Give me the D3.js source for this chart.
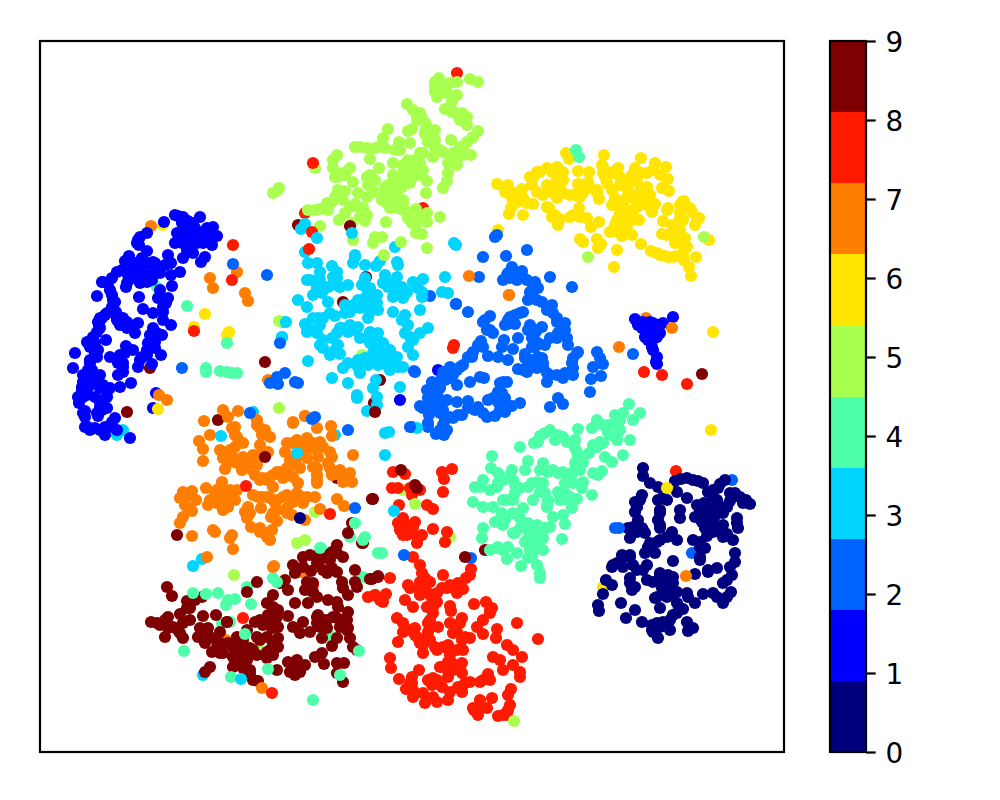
<!DOCTYPE html>
<html><head><meta charset="utf-8">
<script src="https://cdn.jsdelivr.net/npm/d3@7"></script>
<style>html,body{margin:0;background:#fff}svg{display:block}</style></head>
<body><div id="chart"></div>
<script>
const tickLabels=[0,1,2,3,4,5,6,7,8,9];
const palette=["#00007f","#0000ff","#0063ff","#00d4ff","#4effa9","#a9ff4e","#ffe500","#ff7e00","#ff1a00","#7f0000"];
const class0=[[603,427],[603,435],[610,442],[618,446],[635,440],[647,437],[653,439],[663,442],[637,451],[685,439],[678,447],[668,451],[690,452],[700,456],[710,463],[703,462],[602,454],[595,461],[618,459],[627,459],[647,457],[657,464],[677,459],[687,466],[670,467],[595,471],[620,469],[640,469],[640,477],[655,476],[668,476],[683,472],[697,477],[598,479],[618,479],[665,487],[698,487],[588,487],[602,487],[620,487],[683,484],[597,491],[590,497],[605,492],[632,491],[637,499],[673,491],[660,501],[693,499],[683,496],[620,499],[610,502],[605,512],[615,512],[665,507],[695,512],[590,514],[582,514],[577,522],[660,519],[695,521],[572,526],[593,524],[633,520],[603,529],[677,527],[668,531],[620,534],[628,534],[590,537],[655,533],[692,534],[566,539],[613,541],[633,542],[683,542],[572,544],[592,549],[622,547],[628,549],[563,553],[663,553],[673,552],[691,551],[615,557],[630,554],[647,552],[683,562],[558,564],[559,570],[581,562],[620,567],[637,562],[655,562],[643,568],[595,569],[586,577],[633,574],[602,581],[612,584],[623,581],[647,581],[653,587],[613,591],[630,589],[648,590],[618,597],
[641,438],[658,440],[673,449],[680,443],[695,452],[706,459],[673,456],[664,462],[680,465],[690,460],[660,470],[675,475],[662,481],[672,482],[677,490],[667,495],[687,493],[653,499],[660,506],[600,459],[597,466],[623,456],[620,472],[620,484],[593,486],[603,489],[627,496],[617,501],[608,506],[583,516],[590,516],[573,524],[583,526],[597,529],[607,524],[590,542],[595,546],[607,539],[620,541],[627,542],[633,536],[620,532],[617,556],[627,556],[637,551],[648,556],[637,572],[630,579],[612,589],[620,586],[617,582],[677,556],[687,556],[690,526],[687,539],[668,529],[660,516],[697,482],[673,482]];
const class1=[[138,175],[143,176],[148,180],[160,176],[173,186],[177,195],[172,204],[153,182],[147,187],[137,192],[135,202],[143,196],[152,194],[163,192],[157,202],[147,209],[143,217],[153,212],[165,216],[161,221],[124,181],[107,192],[98,199],[99,204],[107,210],[89,215],[85,220],[82,229],[92,229],[102,217],[113,221],[100,227],[107,234],[93,237],[86,246],[100,242],[112,239],[120,232],[128,214],[125,224],[131,222],[140,231],[131,234],[132,245],[62,241],[72,237],[57,255],[70,249],[99,256],[120,249],[118,257],[128,257],[126,262],[75,261],[72,266],[76,271],[103,268],[113,272],[123,271],[60,277],[65,274],[59,284],[123,279],[131,284],[77,279],[87,281],[80,284],[98,282],[87,287],[95,292],[113,287],[110,294],[122,294],[115,301],[57,291],[66,299],[47,301],[55,302],[58,309],[50,306],[86,305],[93,309],[35,312],[80,314],[70,316],[107,309],[115,307],[121,314],[100,319],[98,326],[112,323],[50,322],[33,327],[52,329],[83,322],[83,331],[78,334],[43,334],[60,334],[53,337],[91,342],[80,346],[42,346],[48,347],[60,347],[70,347],[43,356],[55,356],[67,356],[39,362],[60,366],[67,367],[45,376],[58,375],[75,377],[50,389],[48,386],[60,389],[72,386],[77,389],[65,394],[90,397],[116,352],[113,367],[45,370],[595,278],[633,276],[610,281],[623,282],[602,287],[610,291],[618,289],[605,296],[615,297],[612,306],[617,316],[617,323],[398,329],
[135,174],[142,182],[155,187],[167,187],[170,196],[142,202],[148,202],[158,197],[140,192],[163,202],[100,196],[97,202],[95,222],[107,222],[113,229],[88,234],[100,236],[107,241],[115,222],[120,226],[87,242],[77,231],[63,241],[68,242],[72,254],[73,259],[67,272],[58,281],[60,287],[62,277],[53,296],[50,302],[55,312],[57,316],[50,319],[48,329],[53,332],[43,341],[42,349],[50,342],[57,342],[63,344],[67,351],[47,354],[38,356],[63,359],[60,361],[57,372],[62,369],[43,372],[72,381],[65,386],[55,387],[45,386],[125,259],[123,266],[117,292],[115,297],[108,302],[113,306],[107,314],[102,316],[83,326],[78,322],[85,312],[90,284],[83,277],[77,276],[603,281],[613,282],[618,284],[598,284],[612,292],[617,296],[608,299],[613,309],[616,321],[620,292]];
const class2=[[443,216],[466,215],[487,209],[472,226],[463,239],[468,232],[482,230],[477,239],[487,239],[495,241],[498,247],[510,236],[532,246],[490,251],[488,259],[502,261],[512,264],[507,269],[513,272],[439,236],[416,263],[428,271],[390,255],[445,279],[450,275],[483,271],[475,274],[468,279],[465,284],[475,283],[517,281],[525,282],[525,289],[518,292],[447,289],[453,292],[490,284],[502,286],[495,292],[478,297],[464,299],[462,306],[473,308],[441,300],[443,306],[433,311],[428,316],[448,315],[458,316],[468,319],[485,313],[485,317],[495,306],[505,304],[517,297],[528,304],[538,311],[533,317],[498,316],[503,322],[420,326],[410,326],[403,331],[413,334],[478,328],[487,331],[497,327],[533,327],[507,332],[517,334],[525,332],[533,334],[507,341],[392,341],[405,339],[417,344],[430,341],[440,336],[444,337],[467,341],[460,342],[387,349],[400,347],[388,357],[398,356],[458,351],[380,365],[390,366],[417,361],[428,360],[438,366],[448,359],[457,357],[465,357],[480,362],[472,365],[460,369],[389,374],[403,369],[413,377],[422,374],[447,376],[455,375],[405,379],[465,371],[372,386],[388,386],[407,389],[396,393],[404,394],[510,366],[518,357],[523,363],[557,311],[560,317],[563,323],[553,326],[561,335],[551,338],[550,351],[375,331],
[467,234],[473,232],[483,236],[470,237],[492,242],[493,256],[497,259],[510,267],[517,277],[522,286],[470,276],[480,272],[467,283],[443,281],[450,289],[488,289],[497,289],[492,297],[498,302],[492,306],[493,319],[502,317],[503,326],[487,326],[510,334],[523,337],[532,322],[537,312],[527,297],[510,297],[438,304],[432,316],[423,324],[412,331],[417,329],[402,337],[410,337],[393,342],[392,349],[397,352],[395,359],[400,362],[407,359],[395,369],[400,372],[410,376],[418,374],[443,372],[435,369],[428,367],[453,357],[462,352],[458,361],[463,364],[383,367],[388,382],[400,389],[403,384],[463,341],[483,329]];
const class3=[[315,214],[313,222],[325,224],[340,220],[336,225],[357,221],[358,224],[268,222],[277,222],[292,225],[297,231],[280,231],[267,239],[277,239],[293,236],[308,244],[325,237],[345,234],[357,236],[405,236],[383,238],[373,241],[288,246],[300,246],[322,244],[330,247],[348,246],[362,246],[378,247],[402,251],[408,252],[273,254],[282,252],[337,254],[357,254],[363,257],[382,256],[258,259],[267,266],[288,261],[305,264],[318,259],[330,264],[338,269],[310,271],[290,272],[278,277],[295,275],[353,271],[365,274],[380,269],[328,277],[265,283],[280,284],[368,284],[310,284],[318,286],[300,287],[267,291],[277,292],[292,297],[308,291],[388,287],[380,292],[330,291],[338,292],[320,297],[370,296],[280,304],[298,304],[368,306],[330,302],[343,302],[290,314],[300,313],[373,314],[337,309],[350,309],[332,316],[345,317],[357,316],[318,319],[338,324],[308,322],[363,326],[303,327],[328,324],[350,329],[320,332],[268,320],[292,337],[308,342],[336,339],[333,347],[360,346],[317,354],[317,357],[337,356],[337,364],[327,370],[345,392],[349,391],[377,387],[414,202],[416,204],[355,206],[243,281],[242,296],[315,216],
[270,239],[280,239],[277,247],[297,237],[292,244],[328,251],[333,259],[325,257],[337,262],[330,271],[320,267],[313,264],[305,272],[352,242],[357,247],[367,251],[377,242],[382,251],[343,242],[353,256],[283,277],[273,277],[272,289],[283,299],[302,287],[297,292],[313,289],[365,292],[373,299],[362,279],[337,294],[327,297],[335,302],[340,309],[350,316],[333,312],[337,319],[343,322],[355,321],[358,326],[347,324],[318,326],[325,317],[295,309],[283,307]];
const class4=[[589,363],[600,372],[583,372],[575,374],[557,379],[563,384],[552,387],[538,388],[593,379],[575,382],[568,391],[580,389],[510,389],[518,394],[500,395],[494,402],[527,401],[590,399],[577,399],[560,401],[553,404],[480,406],[535,407],[537,411],[549,412],[583,414],[572,421],[565,416],[452,415],[488,420],[537,421],[543,421],[485,429],[451,427],[458,432],[472,429],[503,422],[500,429],[513,429],[523,431],[533,431],[562,430],[553,432],[558,434],[443,439],[435,446],[458,442],[473,439],[492,442],[503,442],[525,442],[543,441],[542,447],[480,447],[450,449],[518,451],[500,451],[552,454],[433,461],[537,458],[463,459],[473,459],[493,459],[508,459],[528,459],[443,466],[453,466],[483,467],[507,466],[532,467],[462,472],[473,472],[513,476],[523,474],[455,481],[465,479],[480,477],[525,483],[443,487],[488,482],[500,486],[510,486],[475,492],[492,492],[442,497],[522,498],[503,497],[485,501],[497,501],[450,509],[458,506],[463,509],[468,506],[490,509],[503,509],[467,518],[477,512],[492,516],[481,525],[497,524],[500,532],[500,537],
[580,379],[568,384],[570,394],[563,402],[577,394],[557,406],[505,392],[515,399],[523,396],[535,399],[498,401],[538,416],[503,427],[508,431],[518,432],[530,434],[540,429],[535,422],[533,442],[497,441],[488,446],[470,434],[475,444],[463,439],[457,446],[440,446],[475,452],[467,459],[505,452],[525,452],[530,456],[520,459],[507,464],[460,479],[463,484],[488,489],[495,491],[500,492],[487,499],[492,502],[480,487],[473,492],[497,484],[505,487],[493,511],[488,517],[457,507]];
const class5=[[395,41],[399,37],[410,42],[417,41],[430,38],[438,41],[395,51],[397,56],[407,52],[417,54],[412,61],[367,63],[405,68],[412,71],[422,72],[427,76],[420,79],[427,84],[373,69],[380,72],[377,79],[385,82],[372,88],[368,90],[385,93],[395,89],[392,99],[395,107],[393,116],[411,99],[438,90],[433,96],[427,101],[348,88],[343,97],[345,107],[355,109],[359,101],[370,102],[315,106],[327,107],[335,107],[297,114],[293,127],[380,112],[375,119],[403,111],[413,112],[423,109],[431,114],[417,124],[408,122],[330,118],[339,127],[353,122],[363,124],[370,127],[383,129],[377,134],[367,136],[310,127],[295,136],[305,134],[313,141],[327,136],[335,139],[328,144],[353,141],[360,139],[345,146],[370,142],[387,140],[408,132],[407,140],[403,147],[298,149],[305,150],[318,152],[327,156],[335,151],[347,151],[352,147],[342,159],[350,157],[386,152],[298,157],[292,161],[303,159],[363,159],[315,163],[350,167],[358,167],[280,168],[288,169],[268,169],[305,172],[323,167],[327,174],[299,179],[325,180],[363,169],[376,168],[368,177],[387,172],[400,176],[377,182],[387,181],[346,181],[280,185],[312,182],[376,192],[382,193],[313,199],[335,196],[342,196],[333,202],[361,201],[387,207],[344,214],[233,152],[239,147],[237,150],[348,144],[357,146],[363,132],[372,137],[380,122],[342,152],[345,159],[387,86],
[353,134],[375,127],[357,149],[362,146],[353,156],[345,152],[382,134],[368,119],[378,119],[383,112],[388,101],[385,91],[395,99],[400,109],[410,117],[417,116],[423,114],[420,106],[432,97],[377,74],[382,77],[390,91],[415,72],[423,77],[360,109],[338,106],[320,106],[293,119],[303,132],[298,136],[330,134],[295,156],[300,152],[287,162],[275,169],[310,166],[318,166],[320,176],[368,171],[372,182],[380,176],[363,162],[347,162],[353,166],[395,46],[405,47]];
const class6=[[526,112],[529,118],[564,114],[601,117],[562,124],[578,127],[615,122],[595,127],[626,126],[517,126],[507,127],[497,131],[490,136],[538,130],[549,131],[563,132],[523,131],[572,132],[607,132],[620,134],[628,138],[517,137],[492,144],[457,143],[468,144],[538,143],[548,141],[567,142],[587,139],[580,144],[597,141],[622,147],[629,150],[482,148],[465,151],[497,151],[520,146],[512,149],[550,147],[557,149],[572,149],[588,149],[607,146],[530,154],[540,156],[517,157],[559,158],[503,154],[610,154],[472,157],[483,157],[493,163],[575,157],[593,157],[615,163],[644,160],[572,164],[583,164],[597,166],[606,164],[471,167],[509,167],[539,167],[628,167],[640,164],[652,171],[469,173],[483,174],[612,171],[627,169],[580,172],[590,172],[530,176],[512,176],[540,176],[520,178],[547,177],[559,181],[583,179],[599,179],[623,180],[659,177],[640,177],[518,184],[551,186],[575,184],[587,184],[655,184],[570,191],[578,191],[582,195],[592,194],[632,184],[622,193],[640,189],[627,194],[540,198],[557,198],[561,203],[558,207],[543,201],[601,203],[645,197],[635,202],[647,206],[669,199],[577,209],[611,210],[620,214],[628,216],[637,215],[643,214],[656,216],[644,219],[649,226],[574,226],[651,235],
[577,162],[587,156],[583,169],[593,169],[577,179],[592,179],[573,189],[587,189],[580,186],[603,157],[600,151],[580,136],[592,134],[602,132],[613,129],[557,152],[543,152],[535,154],[523,152],[513,152],[507,144],[515,144],[523,139],[512,131],[493,137],[500,131],[475,152],[477,161],[487,162],[563,126],[565,136],[573,131],[507,166],[515,174],[533,174],[640,171],[643,179],[637,191],[640,197],[643,204],[642,161],[650,167],[657,177],[617,212],[625,215],[633,216]];
const class7=[[183,369],[198,370],[188,376],[164,380],[253,382],[265,375],[217,379],[195,386],[225,389],[217,384],[230,396],[222,394],[277,387],[291,385],[292,395],[159,400],[170,394],[163,408],[197,396],[203,402],[180,409],[247,402],[257,399],[267,397],[280,401],[313,414],[195,406],[220,404],[245,411],[260,409],[273,407],[290,411],[163,420],[183,417],[193,416],[203,416],[213,414],[228,411],[250,419],[267,417],[278,416],[292,416],[185,428],[197,422],[202,429],[217,424],[237,431],[247,427],[260,427],[273,426],[290,427],[300,429],[310,432],[215,434],[233,434],[243,437],[253,436],[277,434],[292,434],[312,441],[303,441],[220,439],[227,439],[258,442],[277,442],[182,441],[166,447],[233,446],[197,449],[177,449],[152,450],[143,451],[140,457],[213,454],[222,456],[247,454],[257,452],[267,456],[275,456],[168,464],[183,456],[195,459],[156,459],[230,457],[237,459],[253,461],[263,462],[145,464],[297,458],[304,465],[183,469],[177,462],[208,466],[221,467],[237,469],[247,467],[252,474],[152,470],[280,468],[207,477],[231,476],[237,480],[143,476],[140,482],[211,486],[265,479],[173,489],[175,491],[232,489],[220,491],[192,494],[190,497],[227,496],[230,499],[152,495],[193,508],[167,516],[234,525],
[192,387],[195,394],[200,401],[190,409],[190,421],[200,421],[208,422],[220,387],[220,414],[212,429],[223,437],[230,436],[240,431],[252,424],[252,402],[263,402],[273,402],[283,406],[267,406],[257,416],[248,434],[277,427],[277,439],[288,422],[293,431],[300,434],[307,437],[180,456],[187,459],[175,454],[190,449],[180,447],[188,466],[170,459],[142,457],[150,454],[148,467],[218,456],[227,456],[235,462],[243,456],[250,456],[255,459],[262,456],[247,472],[233,472],[210,472],[205,471],[220,487],[227,492]];
const class8=[[353,431],[365,433],[402,431],[412,428],[404,438],[352,447],[358,447],[370,447],[380,449],[372,454],[403,451],[359,464],[387,464],[393,468],[363,477],[358,482],[375,481],[367,487],[363,494],[372,492],[382,494],[377,502],[393,488],[407,491],[405,501],[373,516],[380,524],[431,528],[430,534],[426,537],[403,534],[382,532],[350,537],[368,544],[380,541],[390,541],[335,554],[346,553],[343,561],[365,559],[380,554],[388,552],[402,547],[410,544],[418,542],[423,548],[417,552],[397,561],[373,566],[387,566],[410,565],[411,570],[434,563],[446,561],[452,567],[450,572],[393,572],[357,577],[388,582],[363,582],[410,582],[422,577],[443,579],[477,582],[375,587],[363,591],[388,591],[398,586],[417,591],[437,586],[457,588],[443,593],[456,597],[358,601],[378,597],[390,599],[430,597],[422,599],[498,598],[408,604],[383,612],[397,609],[423,609],[467,604],[473,609],[350,617],[482,616],[410,614],[453,616],[460,619],[351,627],[400,626],[412,622],[422,622],[473,624],[463,629],[480,631],[379,629],[408,636],[422,632],[480,636],[448,633],[359,638],[372,636],[393,637],[450,639],[440,641],[430,641],[370,642],[392,644],[422,646],[366,648],[402,646],[410,651],[383,652],[373,656],[422,651],[471,648],[393,656],[408,659],[385,662],[397,661],[468,654],[452,657],[440,659],[470,664],[434,669],[447,667],[438,674],[458,675],[467,674],
[367,484],[360,489],[373,486],[367,494],[378,497],[370,547],[385,537],[380,549],[385,546],[397,552],[407,547],[392,557],[393,566],[390,579],[388,596],[383,604],[395,606],[403,606],[410,609],[417,609],[408,621],[403,626],[413,629],[408,629],[420,629],[397,639],[388,639],[373,649],[372,642],[425,642],[418,646],[443,639],[370,589],[375,594],[380,602],[425,596],[420,582],[413,592],[433,667],[440,666],[468,669],[463,674],[450,569]];
const class9=[[127,546],[132,555],[147,560],[155,559],[162,556],[150,567],[140,573],[163,575],[176,574],[111,581],[120,584],[128,576],[125,596],[128,587],[143,582],[150,579],[138,589],[143,597],[160,587],[168,587],[180,591],[158,596],[170,597],[187,581],[172,611],[180,602],[183,612],[193,606],[197,596],[207,589],[215,581],[225,579],[233,571],[227,562],[233,554],[240,542],[245,539],[248,549],[253,524],[255,532],[263,516],[270,514],[280,512],[292,511],[297,504],[303,516],[277,522],[290,519],[271,530],[287,532],[297,531],[315,529],[323,502],[330,538],[338,536],[302,541],[315,541],[267,541],[265,549],[273,551],[303,547],[317,546],[308,554],[255,562],[268,562],[277,556],[288,559],[297,561],[298,566],[238,569],[248,575],[278,574],[287,579],[308,571],[297,577],[307,579],[220,579],[232,579],[238,586],[263,581],[253,586],[277,582],[300,586],[308,587],[260,592],[270,591],[287,587],[203,599],[217,596],[227,596],[238,597],[282,597],[310,597],[297,597],[292,605],[313,606],[317,609],[238,606],[210,607],[227,611],[233,614],[200,614],[217,614],[282,612],[275,616],[248,621],[257,619],[265,624],[227,617],[197,619],[207,619],[193,626],[203,627],[284,623],[297,622],[304,622],[237,629],[250,631],[260,631],[255,634],[297,632],[210,632],[213,639],[218,640],[303,641],[170,626],[165,631],
[117,582],[125,579],[133,586],[140,592],[150,562],[147,567],[167,592],[175,597],[165,602],[188,602],[200,606],[207,611],[233,566],[228,574],[223,584],[232,587],[237,576],[233,602],[230,609],[220,599],[213,609],[200,624],[210,629],[263,526],[280,519],[287,514],[297,512],[283,529],[292,527],[273,542],[270,549],[277,576],[283,579],[280,586],[293,576],[302,579],[307,589],[255,626],[260,624],[253,631],[193,616],[180,612],[177,606]];
// off-cluster points drawn before the clusters: [x, y, class]
const straysBelow=[[123,184,6],[111,185,7],[117,246,4],[110,327,9],[83,389,3],[77,394,3],[417,32,8],[265,172,8],[383,167,8],[458,189,6],[469,254,7],[606,277,7],[636,430,8],[692,439,2],[652,512,2],[563,546,6],[363,449,5],[410,496,5],[303,261,9],[326,236,9],[322,314,5],[334,362,9],[340,339,9],[445,509,9],[262,531,7],[186,599,7],[163,634,3],[207,546,4],[233,537,4],[190,581,4],[182,582,4],[218,606,5],[290,595,4],[323,536,4],[273,544,8],[178,379,9],[213,371,3],[295,394,3],[297,437,9],[275,471,5],[281,507,4],[162,518,3],[310,496,4],[308,492,9],[312,482,9],[322,502,9]];
// off-cluster points drawn after the clusters: [x, y, class]
const straysAbove=[[193,204,8],[197,231,7],[193,223,2],[192,239,8],[227,234,2],[170,237,7],[173,247,7],[205,252,7],[208,260,7],[147,265,4],[165,273,6],[154,286,6],[154,290,8],[187,294,6],[189,291,6],[187,302,4],[239,280,5],[246,281,3],[242,296,3],[240,302,2],[142,327,2],[166,327,4],[166,331,4],[180,330,4],[187,331,4],[192,332,4],[197,332,4],[225,321,9],[228,339,7],[245,332,2],[237,336,2],[230,342,2],[238,343,2],[119,354,7],[127,359,7],[118,368,6],[87,371,9],[239,367,5],[210,372,2],[275,127,5],[273,122,8],[258,184,9],[265,183,3],[261,188,3],[272,191,8],[277,197,3],[265,211,3],[269,208,8],[310,185,9],[312,192,3],[457,194,2],[455,196,2],[664,196,5],[548,216,5],[536,109,4],[539,116,4],[335,371,9],[360,359,1],[374,330,2],[370,386,2],[308,389,2],[273,377,2],[265,375,7],[253,381,7],[255,341,2],[258,342,2],[414,304,8],[413,307,8],[416,263,2],[429,235,7],[469,254,7],[632,287,7],[579,306,7],[593,313,2],[604,331,8],[622,334,8],[647,343,8],[662,333,9],[673,291,6],[671,389,6],[375,463,5],[474,680,5],[361,429,9],[375,444,9],[377,447,9],[333,458,9],[354,470,3],[345,414,3],[364,514,2],[431,517,2],[425,516,9],[342,512,4],[338,535,9],[332,538,9],[627,447,6],[575,487,2],[579,487,2],[646,535,7],[275,376,2],[272,378,2],[181,395,3],[225,416,9],[257,412,3],[206,445,8],[260,477,0],[290,473,8],[315,467,2],[332,458,9],[137,494,9],[153,525,3],[257,502,5],[265,499,5],[315,482,4],[325,496,4],[323,499,4],[338,512,4],[194,534,5],[153,552,4],[166,553,4],[178,552,4],[188,559,4],[195,558,4],[186,564,4],[217,541,9],[207,551,9],[211,563,4],[237,541,4],[203,577,8],[187,581,9],[205,593,4],[319,610,4],[144,610,4],[228,628,4],[191,636,4],[201,638,3],[300,634,4],[273,659,4],[222,647,7],[232,652,8],[328,556,8],[335,554,8],[340,559,8],[280,507,4],[233,526,7]];
const clusters=[class0,class1,class2,class3,class4,class5,class6,class7,class8,class9];
const xExtent=[0,744], yExtent=[0,711];

const W=1000,H=800;
const plot={l:40,r:784,t:41,b:752};
const bar={l:830,r:866};
const frame=2.2, dotR=6.1;

const svg=d3.select("#chart").append("svg").attr("width",W).attr("height",H);
const x=d3.scaleLinear().domain(xExtent).range([plot.l,plot.r]);
const y=d3.scaleLinear().domain(yExtent).range([plot.t,plot.b]);

const rows=[];
straysBelow.forEach(p=>rows.push(p));
clusters.forEach((pts,c)=>pts.forEach(p=>rows.push([p[0],p[1],c])));
straysAbove.forEach(p=>rows.push(p));

svg.append("clipPath").attr("id","plotClip").append("rect")
  .attr("x",plot.l).attr("y",plot.t).attr("width",plot.r-plot.l).attr("height",plot.b-plot.t);
svg.append("g").attr("clip-path","url(#plotClip)").selectAll("circle").data(rows).join("circle")
  .attr("cx",d=>x(d[0])).attr("cy",d=>y(d[1])).attr("r",dotR).attr("fill",d=>palette[d[2]]);
svg.append("rect").attr("x",plot.l).attr("y",plot.t).attr("width",plot.r-plot.l).attr("height",plot.b-plot.t)
  .attr("fill","none").attr("stroke","#000").attr("stroke-width",frame);

const cb=d3.scaleLinear().domain([tickLabels[0],tickLabels[tickLabels.length-1]]).range([plot.b,plot.t]);
const step=(cb.domain()[1]-cb.domain()[0])/palette.length;
svg.append("g").attr("shape-rendering","crispEdges").selectAll("rect").data(palette).join("rect")
  .attr("x",bar.l).attr("width",bar.r-bar.l)
  .attr("y",(d,i)=>cb((i+1)*step)).attr("height",(d,i)=>cb(i*step)-cb((i+1)*step))
  .attr("fill",d=>d);
svg.append("rect").attr("x",bar.l).attr("y",plot.t).attr("width",bar.r-bar.l).attr("height",plot.b-plot.t)
  .attr("fill","none").attr("stroke","#000").attr("stroke-width",frame);
const axis=d3.axisRight(cb).tickValues(tickLabels).tickFormat(d3.format("d")).tickSize(9.7).tickPadding(9.7);
const ga=svg.append("g").attr("transform",`translate(${bar.r},0)`).call(axis);
ga.select(".domain").remove();
ga.selectAll("line").attr("stroke","#000").attr("stroke-width",frame);
ga.selectAll("text").attr("fill","#000").attr("dy","0.39em").style("font-family","'DejaVu Sans'").style("font-size","27.8px");
</script></body></html>
